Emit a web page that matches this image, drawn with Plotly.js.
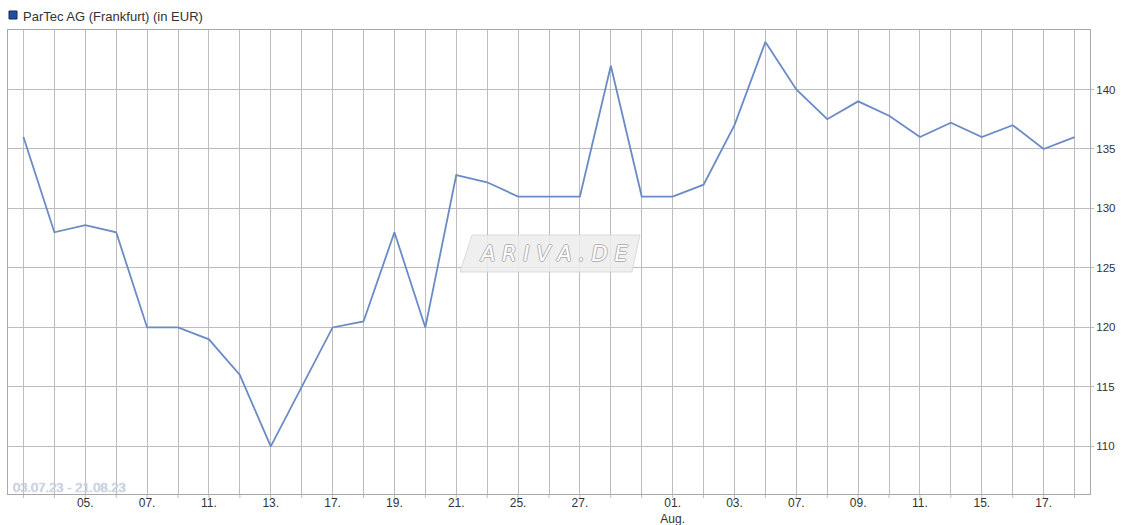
<!DOCTYPE html>
<html>
<head>
<meta charset="utf-8">
<script src="https://cdn.plot.ly/plotly-3.0.1.min.js"></script>
<style>html,body{margin:0;padding:0;background:#fff;}#chart{width:1121px;height:525px;}</style>
</head>
<body>
<div id="chart"></div>
<script>
const dates = ["2023-07-03","2023-07-04","2023-07-05","2023-07-06","2023-07-07","2023-07-10","2023-07-11","2023-07-12","2023-07-13","2023-07-14","2023-07-17","2023-07-18","2023-07-19","2023-07-20","2023-07-21","2023-07-24","2023-07-25","2023-07-26","2023-07-27","2023-07-28","2023-07-31","2023-08-01","2023-08-02","2023-08-03","2023-08-04","2023-08-07","2023-08-08","2023-08-09","2023-08-10","2023-08-11","2023-08-14","2023-08-15","2023-08-16","2023-08-17","2023-08-18"];
const prices = [136, 128, 128.6, 128, 120, 120, 119, 116, 110, 115, 120, 120.5, 128, 120, 132.8, 132.2, 131, 131, 131, 142, 131, 131, 132, 137, 144, 140, 137.5, 139, 137.8, 136, 137.2, 136, 137, 135, 136];
const tickLabels = ["","","05.","","07.","","11.","","13.","","17.","","19.","","21.","","25.","","27.","","","01.<br>Aug.","","03.","","07.","","09.","","11.","","15.","","17.",""];
const yTicks = [110, 115, 120, 125, 130, 135, 140];
const seriesName = "ParTec AG (Frankfurt) (in EUR)";
const rangeText = "03.07.23 - 21.08.23";

const gridColor = "#bcbcbc";
const W = 1121, H = 525, L = 8, R = 31, T = 30, B = 31;
const pw = W - L - R, ph = H - T - B;
const px = x => (x - L) / pw;
const py = y => (H - B - y) / ph;
const FONT = "Liberation Sans, Arial, sans-serif";

const trace = {
  x: dates, y: prices, type: "scatter", mode: "lines",
  line: {color: "#6a8bc6", width: 1.8},
  name: seriesName, showlegend: false, hoverinfo: "x+y"
};

// small tick marks below the x axis, one per trading day
const tickShapes = dates.map(d => ({
  type: "line", xref: "x", yref: "paper", x0: d, x1: d, y0: 0, y1: -4 / ph,
  line: {color: gridColor, width: 1}, layer: "below"
}));

const layout = {
  width: W, height: H,
  margin: {l: L, r: R, t: T, b: B, pad: 0},
  paper_bgcolor: "#ffffff", plot_bgcolor: "#ffffff",
  font: {family: FONT, size: 11, color: "#333"},
  showlegend: false,
  xaxis: {
    type: "category", range: [-0.5, dates.length - 0.5],
    tickmode: "array", tickvals: dates, ticktext: tickLabels,
    showgrid: true, gridcolor: gridColor, gridwidth: 1,
    ticks: "", ticklabelstandoff: -2,
    showline: true, linecolor: "#a8a8a8", linewidth: 1, mirror: true,
    tickfont: {family: FONT, size: 12, color: "#333"},
    zeroline: false, fixedrange: true
  },
  yaxis: {
    side: "right", range: [106, 145],
    tickmode: "array", tickvals: yTicks, ticktext: yTicks.map(String),
    showgrid: true, gridcolor: gridColor, gridwidth: 1,
    ticks: "outside", ticklen: 3, tickcolor: gridColor, tickwidth: 1,
    showline: true, linecolor: "#a8a8a8", linewidth: 1, mirror: true,
    tickfont: {family: FONT, size: 11.5, color: "#333"},
    zeroline: false, fixedrange: true
  },
  shapes: [
    ...tickShapes,
    {type: "rect", xref: "paper", yref: "paper", x0: px(9), x1: px(17), y0: py(19), y1: py(11),
     fillcolor: "#1d4fa6", line: {color: "#1a2a50", width: 1}},
    {type: "path", xref: "paper", yref: "paper", layer: "above",
     path: `M ${px(472)} ${py(235)} L ${px(640)} ${py(235)} L ${px(632)} ${py(272)} L ${px(460)} ${py(272)} Z`,
     fillcolor: "rgba(236,236,236,0.85)", line: {color: "rgba(215,215,215,0.9)", width: 1}}
  ],
  annotations: [
    {xref: "paper", yref: "paper", x: px(21), y: py(16), xanchor: "left", yanchor: "middle",
     text: seriesName, showarrow: false,
     font: {family: FONT, size: 13, color: "#333"}},
    {xref: "paper", yref: "paper", x: px(11), y: py(487), xanchor: "left", yanchor: "middle",
     text: rangeText, showarrow: false,
     font: {family: FONT, size: 13, color: "#d0d8e8",
            shadow: "0 0 1px #8d9ab2"}},
    {xref: "paper", yref: "paper", x: px(553), y: py(254), xanchor: "center", yanchor: "middle",
     text: "<i>A R I V A . D E</i>", showarrow: false,
     font: {family: "DejaVu Sans, sans-serif", size: 21, color: "#ffffff",
            shadow: "1px 0 0 #b0b0b0, -1px 0 0 #b0b0b0, 0 1px 0 #b0b0b0, 0 -1px 0 #b0b0b0"}}
  ]
};

Plotly.newPlot("chart", [trace], layout, {displayModeBar: false, staticPlot: true});
</script>
</body>
</html>
